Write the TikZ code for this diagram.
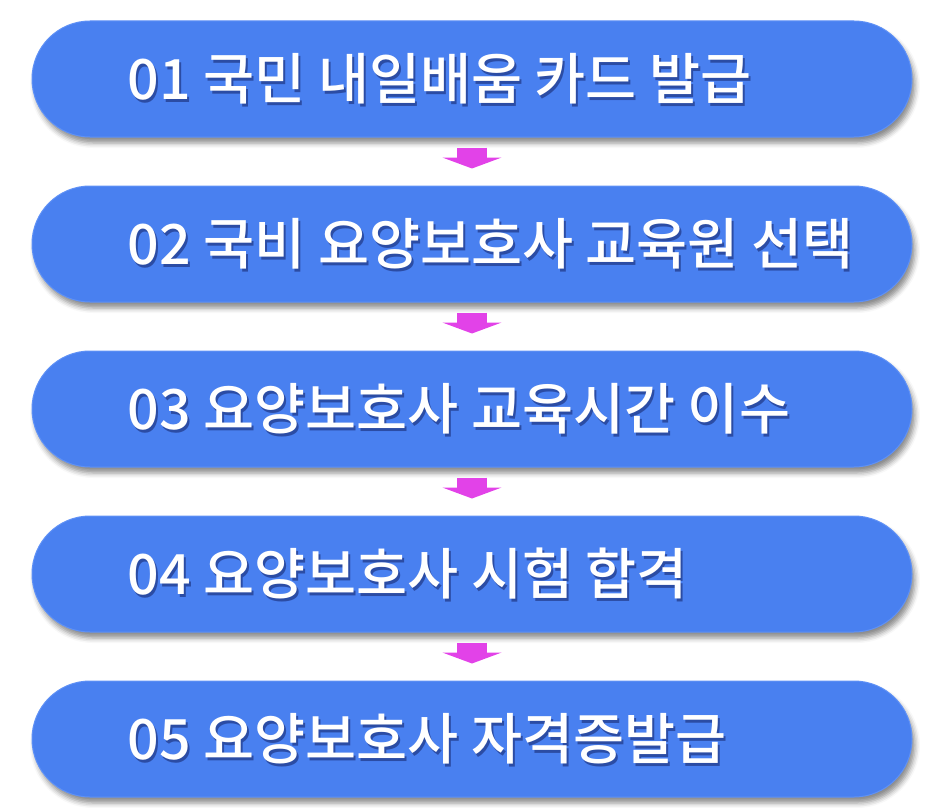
\documentclass[tikz,border=0pt]{standalone}
\usepackage{fontspec}
\newfontfamily\kor{Noto Sans CJK KR}[UprightFont=* Medium, BoldFont=* Bold]
\usetikzlibrary{positioning,arrows.meta,shadows.blur}
\definecolor{pillblue}{RGB}{73,128,240}
\definecolor{pillrim}{RGB}{95,145,246}
\definecolor{arrowpink}{RGB}{226,66,232}
\tikzset{
  pill/.style={fill=pillblue, draw=pillrim, line width=1pt,
    minimum width=880pt, minimum height=116pt,
    rounded corners=58pt, inner sep=0pt,
    blur shadow={shadow xshift=3pt, shadow yshift=-6pt,
      shadow blur radius=5pt, shadow opacity=45}},
  pilltext/.style={text=white, inner sep=0pt,
    font=\kor\fontsize{55.5}{66}\selectfont},
  pillshade/.style={pilltext, text=black!80!blue, opacity=0.4},
  flowarrow/.style={arrowpink, line width=30pt,
    -{Triangle[length=11pt,width=59pt]}}
}

\begin{document}
\begin{tikzpicture}[x=1pt,y=-1pt]
  \useasboundingbox (0,0) rectangle (943,808);
  % steps
  \foreach \n/\txt [count=\i from 0] in {%
      1/01 국민 내일배움 카드 발급,
      2/02 국비 요양보호사 교육원 선택,
      3/03 요양보호사 교육시간 이수,
      4/04 요양보호사 시험 합격,
      5/05 요양보호사 자격증발급}{
    \node[pill] (p\n) at (472,79+165*\i) {};
    \node[pillshade, right=98pt of p\n.west, yshift=-2.5pt] {\txt};
    \node[pilltext, right=96pt of p\n.west] (t\n) {\txt};
  }
  % arrows
  \foreach \a/\b in {1/2,2/3,3/4,4/5}
    \draw[flowarrow] ([yshift=-10pt]p\a.south) -- ([yshift=17pt]p\b.north);
\end{tikzpicture}
\end{document}
